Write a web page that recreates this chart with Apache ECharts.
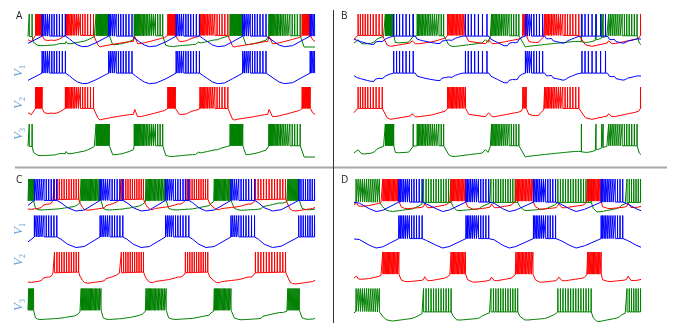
<!DOCTYPE html>
<html><head><meta charset="utf-8">
<script src="https://cdn.jsdelivr.net/npm/echarts@6/dist/echarts.min.js"></script>
<style>html,body{margin:0;padding:0;background:#fff}#c{width:676px;height:334px}</style>
</head><body><div id="c"></div><script>
// ---- DATA (time 0..100 across each panel, voltage 0 = row bottom, 1 = spike peak) ----
// base: sub-threshold keypoints [t, v]; bursts: [start, end, spikeCount, intervalGrowth]; ripple: [start, end, amplitude]
const A_V1_base = [[0,0.11],[4.9,0.33],[13.0,0.33],[14.4,0.25],[15.6,0.16],[17.3,0.06],[19.0,0.01],[20.8,0.02],[23.7,0.13],[28.1,0.33],[36.2,0.33],[37.4,0.25],[38.8,0.16],[40.5,0.06],[42.3,0.01],[44.6,0.03],[48.1,0.16],[51.6,0.33],[59.7,0.33],[61.1,0.25],[62.6,0.16],[64.3,0.06],[66.1,0.01],[68.4,0.03],[71.3,0.16],[74.8,0.33],[82.9,0.33],[84.3,0.25],[85.8,0.16],[87.5,0.06],[89.3,0.01],[92.2,0.04],[95.1,0.18],[98.3,0.33],[100,0.33]];
const A_V1_bursts = [[4.9,13.0,11,1.07],[28.1,36.2,11,1.07],[51.6,59.7,11,1.07],[74.8,82.9,11,1.07],[98.3,99.8,4,1]];
const A_V1_ripple = [];

const A_V2_base = [[0,0.22],[1.2,0.18],[2.2,0.25],[2.6,0.35],[4.9,0.35],[5.7,0.22],[6.3,0.17],[9,0.2],[12.1,0.3],[13.0,0.35],[22.8,0.35],[24.3,0.07],[25.1,0.0],[30,0.08],[36.7,0.17],[37.2,0.32],[38.2,0.1],[43,0.2],[48.1,0.32],[48.7,0.35],[51.3,0.35],[52.7,0.17],[56,0.22],[59.5,0.3],[59.9,0.35],[69.6,0.35],[71.3,0.02],[72,0.0],[78,0.08],[83.5,0.17],[84.0,0.32],[85.2,0.1],[90,0.2],[95.1,0.32],[95.5,0.35],[98.3,0.35],[99.2,0.22],[100,0.17]];
const A_V2_bursts = [[2.6,4.9,10,1],[13.0,22.8,16,1.08],[48.7,51.3,10,1],[59.9,69.6,16,1.08],[95.5,98.3,10,1]];
const A_V2_ripple = [[0,2.2,0.02],[6.3,12.5,0.02],[25.5,36.5,0.01],[38.3,48,0.02],[52.8,59.5,0.02],[72.5,83.3,0.01],[85.3,95,0.02]];

const A_V3_base = [[0,0.32],[1.4,0.32],[1.9,0.14],[3.4,0.05],[10,0.08],[13.0,0.1],[13.3,0.16],[14,0.1],[20,0.2],[23.1,0.32],[23.7,0.34],[28.3,0.34],[29.5,0.07],[33,0.12],[36.7,0.22],[37.0,0.34],[46.9,0.34],[48,0.05],[49.2,0.02],[55,0.07],[59,0.1],[59.3,0.15],[59.8,0.1],[66,0.22],[70,0.32],[70.4,0.34],[74.8,0.34],[75.9,0.07],[80,0.14],[83.5,0.24],[83.9,0.34],[94.8,0.34],[96.2,0.0],[100,0.0]];
const A_V3_bursts = [[0.4,1.4,2,1],[23.7,28.3,16,1],[37.0,46.9,20,1.07],[70.4,74.8,16,1],[83.9,94.8,20,1.07]];
const A_V3_ripple = [[3.4,23,0.015],[29.5,36.7,0.015],[49.2,70,0.015],[76,83.5,0.015]];

const B_V1_base = [[0,0.25],[2.8,0.18],[6.3,0.1],[9.8,0.16],[13.8,0.33],[20.6,0.33],[22.5,0.25],[26,0.18],[29.5,0.13],[34.1,0.2],[38.8,0.33],[46.3,0.33],[48.1,0.25],[52.7,0.05],[56.2,0.13],[59.7,0.33],[65.7,0.33],[67.8,0.25],[73.6,0.13],[79.4,0.33],[87.6,0.33],[89.9,0.22],[94.5,0.13],[100,0.24]];
const B_V1_bursts = [[13.8,20.6,7,1.05],[38.8,46.3,7,1.1],[59.7,65.7,8,1.1],[79.4,87.6,7,1.1]];
const B_V1_ripple = [[0,13.6,0.03],[20.8,38.6,0.03],[46.5,59.5,0.03],[65.9,79.2,0.03],[87.8,100,0.03]];

const B_V2_base = [[0,0.22],[1.4,0.35],[9.8,0.35],[11.5,0.07],[12.7,0.02],[19.6,0.12],[20.2,0.19],[21.4,0.1],[27.2,0.17],[32.4,0.3],[32.6,0.35],[38.8,0.35],[40,0.17],[45.8,0.1],[46.9,0.22],[48.1,0.1],[58.3,0.27],[58.8,0.35],[60,0.35],[60.9,0.17],[64.3,0.14],[66.1,0.3],[66.4,0.35],[78.3,0.35],[80.6,0.07],[82.9,0.02],[88.2,0.12],[88.7,0.19],[89.9,0.1],[99.2,0.27],[99.8,0.35],[100,0.35]];
const B_V2_bursts = [[1.4,9.8,10,1.04],[32.6,38.8,14,1.03],[58.8,60,4,1],[66.4,78.3,18,1.06],[99.8,99.8,1,1]];
const B_V2_ripple = [[0,1.3,0.015],[21.4,32.2,0.015],[48.1,58.2,0.015],[60.9,66,0.015],[89.9,99,0.015]];

const B_V3_base = [[0,0.12],[1.4,0.22],[2.6,0.1],[6.3,0.14],[10.3,0.32],[10.9,0.34],[13.8,0.34],[14.4,0.14],[19.6,0.17],[20.6,0.32],[22.0,0.34],[31.2,0.34],[33.0,0.07],[34.1,0.02],[45.2,0.14],[45.8,0.22],[46.7,0.14],[47.5,0.32],[47.9,0.34],[57.4,0.34],[59.7,0.0],[70,0.1],[78.3,0.17],[80.6,0.14],[83.5,0.2],[85.8,0.27],[88.1,0.32],[88.7,0.34],[98.6,0.34],[99.4,0.12],[100,0.07]];
const B_V3_bursts = [[10.9,13.8,12,1],[20.6,20.6,1,1],[22.0,31.2,16,1.05],[47.9,57.4,16,1.06],[79.2,79.2,1,1],[84.3,84.3,1,1],[86.3,86.8,2,1],[88.7,98.6,14,1.04]];
const B_V3_ripple = [[2.6,10.3,0.02],[14.4,20.4,0.02],[34.1,45,0.015],[60,78,0.01],[80.6,88,0.02]];

const C_V1_base = [[0,0.2],[2.2,0.35],[10,0.35],[11.5,0.28],[13.8,0.13],[16.7,0.03],[19.6,0.06],[25.1,0.35],[33,0.35],[34.5,0.28],[36.7,0.13],[39.4,0.03],[42.3,0.06],[47.9,0.35],[56,0.35],[57.4,0.28],[59.5,0.13],[62,0.03],[64.9,0.06],[70.7,0.35],[78.9,0.35],[80.3,0.28],[82.3,0.13],[85.2,0.03],[88.2,0.07],[94.3,0.35],[100,0.35]];
const C_V1_bursts = [[2.2,10,11,1.06],[25.1,33,11,1.06],[47.9,56,11,1.06],[70.7,78.9,11,1.06],[94.3,99.8,8,1]];
const C_V1_ripple = [];

const C_V2_base = [[0,0.09],[4,0.14],[7.4,0.24],[9.2,0.37],[17.6,0.39],[18.1,0.27],[19.0,0.14],[20.2,0.07],[26,0.14],[30.1,0.24],[32.5,0.37],[40.2,0.39],[40.9,0.24],[41.7,0.14],[43.4,0.07],[49.2,0.14],[53.3,0.24],[54.8,0.37],[62.6,0.39],[63.4,0.24],[64.9,0.12],[66.7,0.07],[73.6,0.14],[77.7,0.24],[79.2,0.37],[89.7,0.39],[90.5,0.24],[91.3,0.09],[92.8,0.05],[100,0.14]];
const C_V2_bursts = [[9.2,17.6,11,1],[32.5,40.2,11,1],[54.8,62.6,11,1],[79.2,89.7,12,1]];
const C_V2_ripple = [[0,9,0.025],[18.5,32.3,0.025],[41.5,54.6,0.025],[64.5,79,0.025],[91,100,0.025]];

const C_V3_base = [[0,0.34],[1.9,0.34],[2.6,0.11],[3.4,0.07],[10.9,0.11],[16.7,0.19],[18.1,0.29],[18.5,0.34],[25.4,0.34],[26.2,0.11],[27.2,0.07],[34.1,0.11],[39.4,0.21],[40.9,0.31],[41.1,0.34],[48.1,0.34],[49,0.11],[50.4,0.07],[57.4,0.11],[63.2,0.21],[64.7,0.31],[64.9,0.34],[70.7,0.34],[71.9,0.11],[73.1,0.07],[80.6,0.11],[88.7,0.27],[90.2,0.31],[90.5,0.34],[94.5,0.34],[95.5,0.11],[96.9,0.07],[100,0.09]];
const C_V3_bursts = [[0.2,1.9,6,1],[18.5,25.4,18,1.03],[41.1,48.1,16,1.03],[64.9,70.7,15,1.02],[90.5,94.5,12,1]];
const C_V3_ripple = [[3.4,18,0.015],[27.2,40.8,0.015],[50.4,64.6,0.015],[73.1,90,0.025],[96.9,100,0.01]];

const D_V1_base = [[0,0.29],[1.9,0.27],[5.3,0.1],[7.7,0.015],[10,0.05],[15.6,0.3],[23.7,0.3],[25.3,0.24],[28.6,0.1],[30.9,0.015],[33.2,0.06],[39,0.3],[46.9,0.3],[48.9,0.26],[51.8,0.1],[54.1,0.015],[56.4,0.06],[62.5,0.3],[70.2,0.3],[72.1,0.24],[75,0.1],[77.4,0.015],[80.3,0.08],[86.1,0.3],[93.6,0.3],[95.4,0.24],[98.3,0.1],[100,0.04]];
const D_V1_bursts = [[15.6,23.7,12,1.07],[39,46.9,12,1.07],[62.5,70.2,12,1.07],[86.1,93.6,12,1.07]];
const D_V1_ripple = [];

const D_V2_base = [[0,0.21],[0.9,0.27],[1.6,0.18],[5.3,0.21],[9.4,0.29],[10,0.33],[15.6,0.33],[16.4,0.16],[18.1,0.11],[24.2,0.16],[24.6,0.25],[25.7,0.13],[32,0.23],[33.4,0.31],[33.8,0.33],[38.8,0.33],[39.6,0.16],[41.3,0.09],[47.4,0.15],[47.9,0.24],[48.9,0.13],[55.3,0.23],[56.2,0.31],[56.4,0.33],[62.3,0.33],[63.2,0.16],[64.6,0.09],[70.9,0.15],[71.4,0.24],[72.5,0.13],[80.3,0.23],[81.1,0.31],[81.4,0.33],[86.1,0.33],[86.6,0.16],[88.4,0.11],[95,0.17],[95.5,0.27],[96.5,0.14],[100,0.17]];
const D_V2_bursts = [[10,15.6,14,1.02],[33.8,38.8,12,1.02],[56.4,62.3,13,1.02],[81.4,86.1,12,1.02]];
const D_V2_ripple = [[1.6,9.2,0.015],[16.4,24.1,0.015],[25.7,33,0.015],[41.3,47.3,0.015],[48.9,55.8,0.015],[64.6,70.8,0.015],[72.5,80.8,0.015],[88.4,94.9,0.015],[96.5,100,0.015]];

const D_V3_base = [[0,0.26],[0.7,0.31],[8.8,0.29],[10,0.16],[11.1,0.06],[13.5,0.03],[20.4,0.11],[23.7,0.24],[24.2,0.29],[33.8,0.29],[34.6,0.16],[35.8,0.05],[43.7,0.11],[47.2,0.26],[47.7,0.29],[57,0.29],[57.8,0.16],[59.4,0.05],[66.9,0.11],[70.4,0.25],[71,0.29],[82.6,0.29],[83.4,0.11],[84.6,0.005],[92.5,0.14],[94.5,0.25],[95.1,0.29],[100,0.29]];
const D_V3_bursts = [[0.7,8.8,12,1],[24.2,33.8,12,1],[47.7,57,12,1],[71,82.6,14,1],[95.1,99.8,7,1]];
const D_V3_ripple = [[11.1,23.5,0.015],[35.8,47,0.015],[59.4,70.2,0.015],[84.6,94.3,0.02]];

const panelLetters = ['A','B','C','D'];
const vLabels = ['1','2','3'];

// ---- LAYOUT ----
const PANEL_LEFT = {A:28, B:354, C:28, D:354};
const ROW_TOPS = {A:[14,51,87,124], B:[14,51,87,124], C:[179,215.5,252,288.5], D:[179,215.5,252,288.5]};
const COLORS = ['#0000ff','#ff0000','#008000'];
const TRACES = {
  A:[[A_V1_base,A_V1_bursts,A_V1_ripple],[A_V2_base,A_V2_bursts,A_V2_ripple],[A_V3_base,A_V3_bursts,A_V3_ripple]],
  B:[[B_V1_base,B_V1_bursts,B_V1_ripple],[B_V2_base,B_V2_bursts,B_V2_ripple],[B_V3_base,B_V3_bursts,B_V3_ripple]],
  C:[[C_V1_base,C_V1_bursts,C_V1_ripple],[C_V2_base,C_V2_bursts,C_V2_ripple],[C_V3_base,C_V3_bursts,C_V3_ripple]],
  D:[[D_V1_base,D_V1_bursts,D_V1_ripple],[D_V2_base,D_V2_bursts,D_V2_ripple],[D_V3_base,D_V3_bursts,D_V3_ripple]]
};

function interpAt(base, t){
  if (t <= base[0][0]) return base[0][1];
  for (let i=1;i<base.length;i++){
    if (t <= base[i][0]){ const a=base[i-1], b=base[i]; return b[0]===a[0]? b[1] : a[1]+(b[1]-a[1])*(t-a[0])/(b[0]-a[0]); }
  }
  return base[base.length-1][1];
}
function spikeTimes(b){
  const [t0,t1,n,g]=b;
  if (n===1) return [t0];
  let w=0; for(let k=0;k<n-1;k++) w+=Math.pow(g,k);
  const d=(t1-t0)/w, out=[t0]; let t=t0;
  for(let k=0;k<n-1;k++){ t+=d*Math.pow(g,k); out.push(t); }
  return out;
}
function buildTrace(base, bursts, ripple){
  const SW=0.07, RP=1.16;
  const spikes=[]; bursts.forEach(b=>spikeTimes(b).forEach(t=>spikes.push(t)));
  const inSpike=t=>spikes.some(s=>t>s && t<s+SW);
  const pts=base.filter(p=>!inSpike(p[0])).map(p=>[p[0],p[1]]);
  ripple.forEach(([a,b,amp])=>{ let k=0; for(let t=a+RP/2;t<b-RP/4;t+=RP/2,k++){ if(!inSpike(t)) pts.push([t, interpAt(base,t)+(k%2?-amp:amp)]); } });
  spikes.forEach(s=>{ const v=interpAt(base,s); pts.push([s,v],[s+SW*0.45,1],[s+SW,v]); });
  pts.sort((a,b)=>a[0]-b[0]);
  return pts.map(p=>[p[0], Math.max(0, Math.min(1, p[1]))]);
}

const grid=[], xAxis=[], yAxis=[], series=[];
panelLetters.forEach(P=>{
  const built = TRACES[P].map(tr=>buildTrace(tr[0],tr[1],tr[2]));
  ROW_TOPS[P].forEach((top,r)=>{
    const gi=grid.length;
    grid.push({left:PANEL_LEFT[P], top:top, width:287, height:33});
    xAxis.push({gridIndex:gi, type:'value', min:0, max:100, show:false});
    yAxis.push({gridIndex:gi, type:'value', min:0, max:1, show:false});
    const idx = r===0 ? [2,1,0] : [r-1];
    idx.forEach(i=>{
      series.push({type:'line', xAxisIndex:gi, yAxisIndex:gi, data:built[i], symbol:'none', showSymbol:false,
        silent:true, clip:false, lineStyle:{width:1, color:COLORS[i]}, itemStyle:{color:COLORS[i]}});
    });
  });
});

const graphic=[
  {type:'line', shape:{x1:15,y1:167.5,x2:667,y2:167.5}, style:{stroke:'#a8a8a8', lineWidth:2}},
  {type:'line', shape:{x1:333.5,y1:10,x2:333.5,y2:323}, style:{stroke:'#333', lineWidth:1}},
];
const letterPos = {A:[16,16], B:[341,16], C:[16,180], D:[341,180]};
panelLetters.forEach(P=>graphic.push({type:'text', x:letterPos[P][0], y:letterPos[P][1],
  style:{text:P, fill:'#222', font:'10px "Open Sans", sans-serif', align:'left', verticalAlign:'middle'}}));
const vPos = {A:[71,103,134], C:[229,260,305]};
['A','C'].forEach(P=>vLabels.forEach((s,i)=>graphic.push({type:'text', x:19, y:vPos[P][i], rotation:Math.PI/2,
  style:{text:'{v|V}{s|'+s+'}', align:'center', verticalAlign:'middle',
    rich:{v:{fontFamily:'Liberation Serif', fontStyle:'italic', fontSize:13, lineHeight:15, fill:'#6aa3d5'},
          s:{fontFamily:'Liberation Serif', fontSize:8, lineHeight:8, verticalAlign:'bottom', fill:'#6aa3d5'}}}})));

const chart=echarts.init(document.getElementById('c'), null, {renderer:'canvas'});
chart.setOption({animation:false, backgroundColor:'#fff', grid, xAxis, yAxis, series, graphic});
</script></body></html>
